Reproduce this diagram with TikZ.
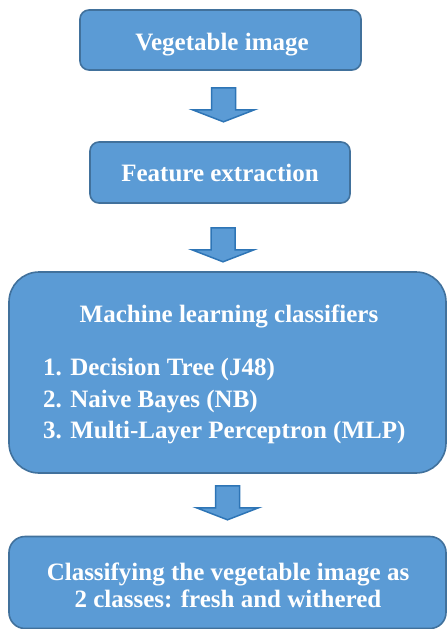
\documentclass[tikz,border=0pt]{standalone}
\usepackage{fontspec}
\setmainfont{Liberation Serif}[BoldFont={Liberation Serif Bold}]
\usetikzlibrary{calc}
\definecolor{boxfill}{HTML}{5B9BD5}
\definecolor{boxline}{HTML}{41719C}
\definecolor{arrline}{HTML}{2E75B6}
\begin{document}
\begin{tikzpicture}[x=1pt,y=-1pt,
  box/.style={draw=boxline, line width=1.6pt, fill=boxfill, inner sep=0pt},
  lbl/.style={text=white, font=\rmfamily\bfseries\fontsize{25}{30}\selectfont, inner sep=0pt},
  arr/.style={draw=arrline, line width=1.5pt, fill=boxfill, line join=miter},
  blockdown/.pic={\draw[arr] (-12,0) -- (12,0) -- (12,22) -- (31,22) -- (0,34)
      -- (-31,22) -- (-12,22) -- cycle;}]
\useasboundingbox (0,0) rectangle (447,629);

% boxes of the flow
\node[box, rounded corners=9pt, minimum width=281pt, minimum height=60pt] (b1) at (220.5,40) {};
\node[box, rounded corners=9pt, minimum width=260pt, minimum height=61pt] (b2) at (220,172.5) {};
\node[box, rounded corners=30pt, minimum width=437pt, minimum height=201pt] (b3) at (227.5,372.5) {};
\node[box, rounded corners=16pt, minimum width=437pt, minimum height=92pt] (b4) at (227.5,582.5) {};

% labels
\node[lbl, anchor=base] (t1) at (222,50) {Vegetable image};
\node[lbl, anchor=base] (t2) at (220,181) {Feature extraction};
\node[lbl, anchor=base] (t3) at (229,322) {Machine learning classifiers};
\node[lbl, anchor=base west] (l1) at (43,375) {1. Decision Tree (J48)};
\node[lbl, anchor=base west] (l2) at (43,407) {2. Naive Bayes (NB)};
\node[lbl, anchor=base west] (l3) at (43,438) {3. Multi-Layer Perceptron (MLP)};
\node[lbl, anchor=base] (t4a) at (228,580) {Classifying the vegetable image as};
\node[lbl, anchor=base] (t4b) at (228,607.5) {2 classes: fresh and withered};

% block arrows between the boxes
\pic at ($(b1.south)+(3,17)$) {blockdown};
\pic at ($(b2.south)+(3,24)$) {blockdown};
\pic at ($(b3.south)+(0,12)$) {blockdown};
\end{tikzpicture}
\end{document}
